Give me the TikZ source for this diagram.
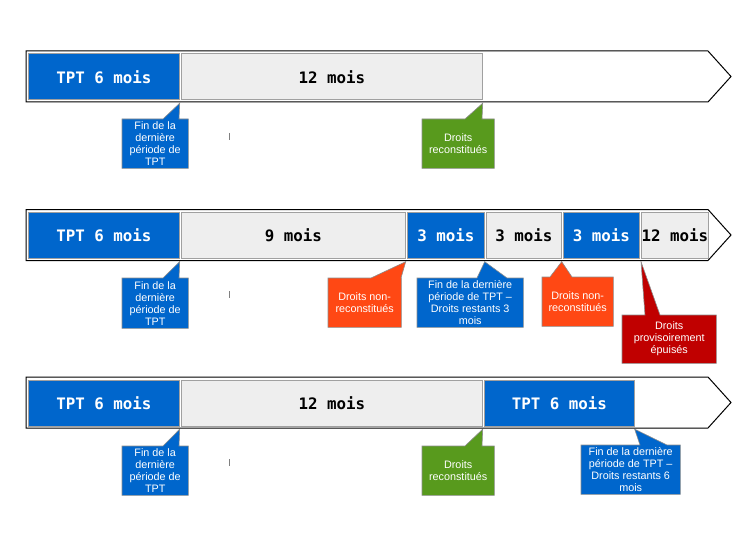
\documentclass[tikz,border=0pt]{standalone}
\usepackage{fontspec}
\setmainfont{Liberation Sans}
\newfontfamily\segfont{DejaVu Sans Mono}
\usetikzlibrary{calc,backgrounds}
\definecolor{tptblue}{HTML}{0066CC}
\definecolor{seggray}{HTML}{EEEEEE}
\definecolor{segline}{HTML}{A0A0A0}
\definecolor{okgreen}{HTML}{589A1D}
\definecolor{nokorange}{HTML}{FF4814}
\definecolor{outred}{HTML}{C00000}
\definecolor{calline}{HTML}{8C8C8C}
\newcommand\calloutshape[5]{%
  \begin{scope}[on background layer]
    \filldraw[fill=#2, draw=calline, line width=0.6pt, line join=miter]
      (#1.north west) -- ($(#1.north west)+(#3,0)$) -- (#5)
      -- ($(#1.north west)+(#4,0)$) -- (#1.north east)
      -- (#1.south east) -- (#1.south west) -- cycle;
  \end{scope}}
\begin{document}
\begin{tikzpicture}[x=1pt,y=-1pt,
  bar/.style={draw=black, line width=1pt, fill=white, line join=miter},
  seg/.style={draw=segline, line width=0.7pt, anchor=north west, inner sep=0pt,
    minimum height=46pt, font=\segfont\bfseries\fontsize{15.8}{18}\selectfont},
  blueseg/.style={seg, fill=tptblue, text=white},
  grayseg/.style={seg, fill=seggray, text=black},
  callout/.style={anchor=north west, inner sep=0pt, align=center,
    font=\fontsize{10.8}{12}\selectfont, text=white},
  tick/.style={draw=gray, line width=0.8pt},
]
\useasboundingbox (0,0) rectangle (756,535);

% ---------- Row 1 ----------
\draw[bar] (26,51) -- (708,51) -- (731,76.5) -- (708,102) -- (26,102) -- cycle;
\node[blueseg, minimum width=151pt] (b11) at (28,53.5) {TPT 6 mois};
\node[grayseg, minimum width=301pt] (b12) at (181,53.5) {12 mois};

\node[callout, minimum width=66pt, minimum height=49pt] (c11) at (122,119)
  {Fin de la\\dernière\\période de\\TPT};
\calloutshape{c11}{tptblue}{41}{57}{$(b11.south east)+(0,3)$}
\node[callout, minimum width=72pt, minimum height=49pt] (c12) at (422,119)
  {Droits\\reconstitués};
\calloutshape{c12}{okgreen}{43}{60}{$(b12.south east)+(0,3)$}
\draw[tick] (229.5,133) -- (229.5,140);

% ---------- Row 2 ----------
\draw[bar] (26,209.5) -- (708,209.5) -- (731,235) -- (708,260.5) -- (26,260.5) -- cycle;
\node[blueseg, minimum width=151pt] (b21) at (28,212) {TPT 6 mois};
\node[grayseg, minimum width=224pt] (b22) at (181,212) {9 mois};
\node[blueseg, minimum width=77pt] (b23) at (407,212) {3 mois};
\node[grayseg, minimum width=75pt] (b24) at (486,212) {3 mois};
\node[blueseg, minimum width=76pt] (b25) at (563,212) {3 mois};
\node[grayseg, minimum width=67pt] (b26) at (641,212) {12 mois};

\node[callout, minimum width=66pt, minimum height=50pt] (c21) at (122,278)
  {Fin de la\\dernière\\période de\\TPT};
\calloutshape{c21}{tptblue}{41}{57}{$(b21.south east)+(0,3)$}
\node[callout, minimum width=73pt, minimum height=49pt] (c22) at (328,278)
  {Droits non-\\reconstitués};
\calloutshape{c22}{nokorange}{43}{73}{$(b22.south east)+(0,3)$}
\node[callout, minimum width=106pt, minimum height=49pt] (c23) at (417,278)
  {Fin de la dernière\\période de TPT –\\Droits restants 3\\mois};
\calloutshape{c23}{tptblue}{60}{90}{$(b23.south east)+(0,3)$}
\node[callout, minimum width=71pt, minimum height=49pt] (c24) at (542,277)
  {Droits non-\\reconstitués};
\calloutshape{c24}{nokorange}{8}{30}{$(b24.south east)+(0,3)$}
\node[callout, minimum width=94pt, minimum height=48pt] (c25) at (622,315)
  {Droits\\provisoirement\\épuisés};
\calloutshape{c25}{outred}{23}{38}{$(b26.south west)+(0,3)$}
\draw[tick] (229.5,291) -- (229.5,298);

% ---------- Row 3 ----------
\draw[bar] (26,377) -- (708,377) -- (731,402.5) -- (708,428) -- (26,428) -- cycle;
\node[blueseg, minimum width=151pt] (b31) at (28,379.5) {TPT 6 mois};
\node[grayseg, minimum width=301pt] (b32) at (181,379.5) {12 mois};
\node[blueseg, minimum width=150pt] (b33) at (484,379.5) {TPT 6 mois};

\node[callout, minimum width=66pt, minimum height=49pt] (c31) at (122,446)
  {Fin de la\\dernière\\période de\\TPT};
\calloutshape{c31}{tptblue}{41}{57}{$(b31.south east)+(0,3)$}
\node[callout, minimum width=72pt, minimum height=49pt] (c32) at (422,446)
  {Droits\\reconstitués};
\calloutshape{c32}{okgreen}{43}{60}{$(b32.south east)+(0,3)$}
\node[callout, minimum width=99pt, minimum height=49pt] (c33) at (581,445)
  {Fin de la dernière\\période de TPT –\\Droits restants 6\\mois};
\calloutshape{c33}{tptblue}{59}{86}{$(b33.south east)+(0,3)$}
\draw[tick] (229.5,459) -- (229.5,466);
\end{tikzpicture}
\end{document}
